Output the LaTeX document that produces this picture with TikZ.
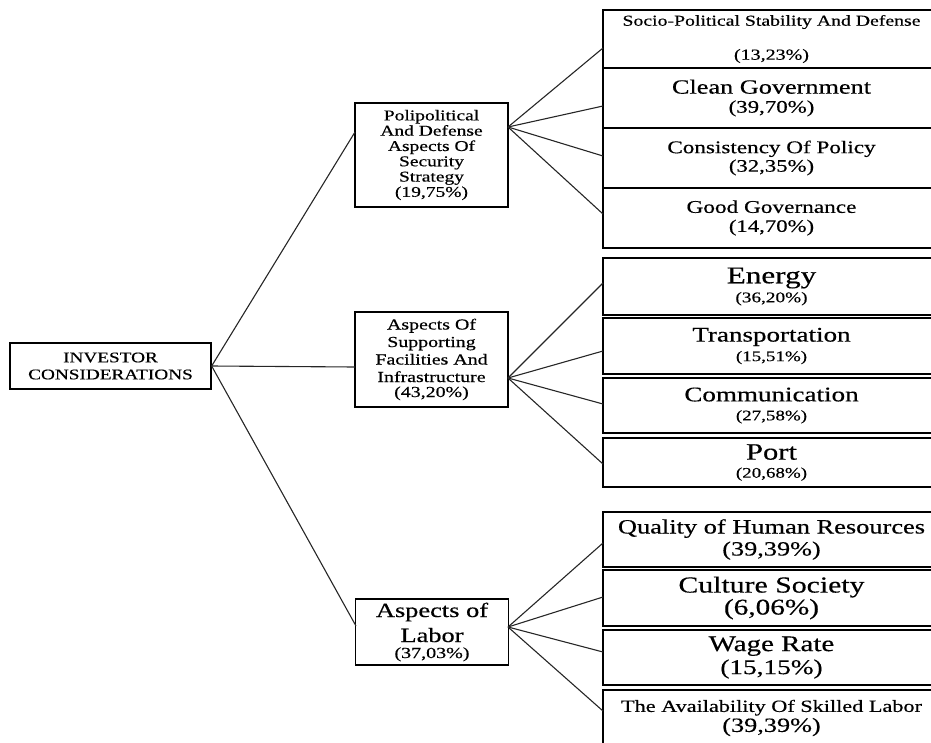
\documentclass[tikz,border=0pt]{standalone}
\usepackage{fontspec}
\setmainfont{Liberation Serif}[UprightFeatures={FakeBold=0.4}]
\usepackage{graphicx}
\newcommand{\sx}[1]{\scalebox{1.3}[1]{#1}}
\newcommand{\fs}[2]{\fontsize{#1}{#2}\selectfont}
\begin{document}
\begin{tikzpicture}[x=1pt,y=-1pt,
  box/.style={draw=black, line width=1.3pt, inner sep=0pt, align=center, text=black},
  midbox/.style={box, minimum width=153pt},
  rbox/.style={box, minimum width=337pt},
  conn/.style={draw=black!85, line width=1.1pt}]
\path[use as bounding box, clip] (0,0) rectangle (931,742);

% root
\node[box, minimum width=201pt, minimum height=46pt, font=\fs{14.8}{17}] (root) at (110.5,366)
  {\sx{INVESTOR}\\\sx{CONSIDERATIONS}};

% middle level
\node[midbox, minimum height=104pt, font=\fs{15}{15.3}] (m1) at (431.5,155)
  {\sx{Polipolitical}\\\sx{And Defense}\\\sx{Aspects Of}\\\sx{Security}\\\sx{Strategy}\\\sx{(19,75\%)}};
\node[midbox, minimum height=95pt, font=\fs{15.3}{17.5}] (m2) at (431.5,359.5)
  {\sx{Aspects Of}\\\sx{Supporting}\\\sx{Facilities And}\\\sx{Infrastructure}\\[-2.5pt]\sx{(43,20\%)}};
\node[midbox, minimum height=66pt, font=\fs{20.3}{25}] (m3) at (432,632)
  {\sx{Aspects of}\\\sx{Labor}\\[-9pt]{\fs{15.4}{25}\sx{(37,03\%)}}};

% right level, group 1
\node[rbox, minimum height=58pt, font=\fs{15.2}{34}] (r1a) at (771.5,39)
  {\sx{Socio-Political Stability And Defense}\\{\fs{15.4}{34}\sx{(13,23\%)}}};
\node[rbox, minimum height=60pt, font=\fs{20.2}{19}] (r1b) at (771.5,98)
  {\sx{Clean Government}\\{\fs{17.6}{19}\sx{(39,70\%)}}};
\node[rbox, minimum height=60pt, font=\fs{17.8}{18.5}] (r1c) at (771.5,158)
  {\sx{Consistency Of Policy}\\{\fs{17.5}{18.5}\sx{(32,35\%)}}};
\node[rbox, minimum height=60pt, font=\fs{17.9}{19}] (r1d) at (771.5,218)
  {\sx{Good Governance}\\{\fs{17.5}{19}\sx{(14,70\%)}}};

% group 2
\node[rbox, minimum height=57pt, font=\fs{24}{19}] (r2a) at (771.5,286.5)
  {\sx{Energy}\\{\fs{14.8}{19}\sx{(36,20\%)}}};
\node[rbox, minimum height=56pt, font=\fs{20.8}{19.5}] (r2b) at (771.5,346)
  {\sx{Transportation}\\{\fs{14.6}{19.5}\sx{(15,51\%)}}};
\node[rbox, minimum height=55pt, font=\fs{20.8}{19}] (r2c) at (771.5,405.5)
  {\sx{Communication}\\{\fs{14.6}{19}\sx{(27,58\%)}}};
\node[rbox, minimum height=49pt, font=\fs{23.5}{18}] (r2d) at (771.5,462.5)
  {\sx{Port}\\{\fs{14.6}{18}\sx{(20,68\%)}}};

% group 3
\node[rbox, minimum height=55pt, font=\fs{20.3}{22}] (r3a) at (771.5,539.5)
  {\sx{Quality of Human Resources}\\{\fs{20.2}{22}\sx{(39,39\%)}}};
\node[rbox, minimum height=56pt, font=\fs{22.9}{22}] (r3b) at (771.5,598)
  {\sx{Culture Society}\\{\fs{22.5}{22}\sx{(6,06\%)}}};
\node[rbox, minimum height=55pt, font=\fs{22.3}{23}] (r3c) at (771.5,657.5)
  {\sx{Wage Rate}\\{\fs{21}{23}\sx{(15,15\%)}}};
\node[rbox, minimum height=56pt, font=\fs{17.1}{20}] (r3d) at (771.5,718)
  {\sx{The Availability Of Skilled Labor}\\{\fs{20.2}{20}\sx{(39,39\%)}}};

% connection points
\coordinate (m1L) at (355,132);
\coordinate (m2L) at (355,367);
\coordinate (m3L) at (356,626);
\coordinate (m1R) at (508,127);
\coordinate (m2R) at (508,378);
\coordinate (m3R) at (508,627);
\coordinate (r1aL) at (603,48);
\coordinate (r1bL) at (603,106);
\coordinate (r1cL) at (603,156);
\coordinate (r1dL) at (603,214);
\coordinate (r2aL) at (603,283);
\coordinate (r2bL) at (603,351);
\coordinate (r2cL) at (603,404);
\coordinate (r2dL) at (603,464);
\coordinate (r3aL) at (603,543);
\coordinate (r3bL) at (603,597);
\coordinate (r3cL) at (603,652);
\coordinate (r3dL) at (603,711);

% connectors
\draw[conn] (root.east) -- (m1L);
\draw[conn] (root.east) -- (m2L);
\draw[conn] (root.east) -- (m3L);
\foreach \t in {r1aL,r1bL,r1cL,r1dL} \draw[conn] (m1R) -- (\t);
\foreach \t in {r2aL,r2bL,r2cL,r2dL} \draw[conn] (m2R) -- (\t);
\foreach \t in {r3aL,r3bL,r3cL,r3dL} \draw[conn] (m3R) -- (\t);
\end{tikzpicture}
\end{document}
